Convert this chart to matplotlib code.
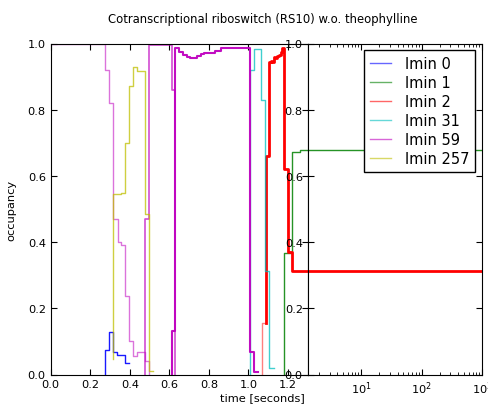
import numpy as np
import matplotlib
matplotlib.use('Agg')
import matplotlib.pyplot as plt
from matplotlib.lines import Line2D

title = 'Cotranscriptional riboswitch (RS10) w.o. theophylline'
labels = ['lmin 0', 'lmin 1', 'lmin 2', 'lmin 31', 'lmin 59', 'lmin 257']
colors = ['b', 'g', 'r', 'c', 'm', 'y']

# time [s] and occupancy of each structure (step-wise)
blue_t = [0.277, 0.277, 0.297, 0.316, 0.336, 0.357, 0.378, 0.398]
blue_y = [0.0, 0.075, 0.127, 0.069, 0.060, 0.058, 0.034, 0.034]

green_t = [1.182, 1.182, 1.222, 1.26, 1000]
green_y = [0.0, 0.367, 0.673, 0.679, 0.679]

red1_t = [1.067, 1.067, 1.087]
red1_y = [0.0, 0.155, 0.155]

red2_t = [1.087, 1.087, 1.103, 1.112, 1.12, 1.129, 1.137, 1.146, 1.154,
          1.163, 1.171, 1.182, 1.20, 1.222, 1000]
red2_y = [0.155, 0.66, 0.943, 0.948, 0.943, 0.958, 0.955, 0.963, 0.965,
          0.973, 0.985, 0.62, 0.371, 0.314, 0.314]

cyan_t = [1.008, 1.008, 1.028, 1.064, 1.084, 1.105, 1.128]
cyan_y = [0.0, 0.921, 0.983, 0.83, 0.314, 0.019, 0.019]

mag1_t = [0.0, 0.275, 0.297, 0.316, 0.338, 0.358, 0.378, 0.397, 0.417, 0.436,
          0.475, 0.495]
mag1_y = [1.0, 0.92, 0.82, 0.47, 0.40, 0.39, 0.236, 0.102, 0.057, 0.067,
          0.042, 0.0]

mag2_t = [0.475, 0.475, 0.495, 0.614, 0.627]
mag2_y = [0.0, 0.47, 0.994, 0.86, 0.0]

mag3_t = [0.614, 0.614, 0.627, 0.65, 0.67, 0.69, 0.707, 0.72, 0.74, 0.76,
          0.775, 0.83, 0.86, 1.008, 1.029, 1.047]
mag3_y = [0.0, 0.13, 0.985, 0.975, 0.965, 0.958, 0.955, 0.957, 0.962, 0.968,
          0.972, 0.978, 0.986, 0.067, 0.007, 0.007]

yel_t = [0.316, 0.316, 0.338, 0.358, 0.378, 0.397, 0.417, 0.436, 0.478, 0.495,
         0.515]
yel_y = [0.047, 0.545, 0.545, 0.548, 0.70, 0.871, 0.93, 0.918, 0.484, 0.01,
         0.01]

traces = [
    (blue_t, blue_y, 'b', 0.9, 1.0),
    (green_t, green_y, 'g', 0.85, 1.0),
    (red1_t, red1_y, 'r', 0.5, 1.0),
    (red2_t, red2_y, 'r', 1.0, 2.0),
    (cyan_t, cyan_y, 'c', 0.75, 1.0),
    (mag1_t, mag1_y, 'm', 0.55, 1.0),
    (mag2_t, mag2_y, 'm', 0.7, 1.2),
    (mag3_t, mag3_y, 'm', 0.95, 1.5),
    (yel_t, yel_y, 'y', 0.75, 1.0),
]

plt.rcParams['font.size'] = 8.2
plt.rcParams['xtick.direction'] = 'in'
plt.rcParams['ytick.direction'] = 'in'
plt.rcParams['xtick.top'] = True
plt.rcParams['ytick.right'] = True
plt.rcParams['xtick.major.size'] = 4
plt.rcParams['ytick.major.size'] = 4
plt.rcParams['xtick.minor.size'] = 2
plt.rcParams['ytick.minor.size'] = 2

fig = plt.figure(figsize=(4.89, 4.06), dpi=100)
W, H = 489.0, 406.0
ax1 = fig.add_axes([50.7 / W, 30.5 / H, 257.0 / W, 331.0 / H])
ax2 = fig.add_axes([307.7 / W, 30.5 / H, 174.3 / W, 331.0 / H])

for t, y, c, a, lw in traces:
    for ax in (ax1, ax2):
        ax.plot(t, y, color=c, alpha=a, lw=lw, drawstyle='steps-post')

ax1.set_xlim(0, 1.3)
ax1.set_ylim(0, 1)
ax1.set_xticks(np.arange(0, 1.21, 0.2))
ax1.set_ylabel('occupancy', labelpad=8)

ax2.set_xscale('log')
ax2.set_xlim(1.3, 1000)
ax2.set_ylim(0, 1)

handles = [Line2D([], [], color=c, alpha=0.6, lw=1) for c in colors]
leg = ax2.legend(handles, labels, loc='upper right', fontsize=10.5,
                 fancybox=False, handlelength=1.4, handletextpad=1.0,
                 labelspacing=0.28, borderaxespad=0.45)
leg.get_frame().set_edgecolor('black')
leg.get_frame().set_alpha(1)

fig.text(262.5 / W, 1 - 20 / H, title, ha='center', va='center', fontsize=8.4)
fig.text(262.5 / W, 1 - 398 / H, 'time [seconds]', ha='center', va='center',
         fontsize=8.2)

fig.savefig('out.png', dpi=100)
